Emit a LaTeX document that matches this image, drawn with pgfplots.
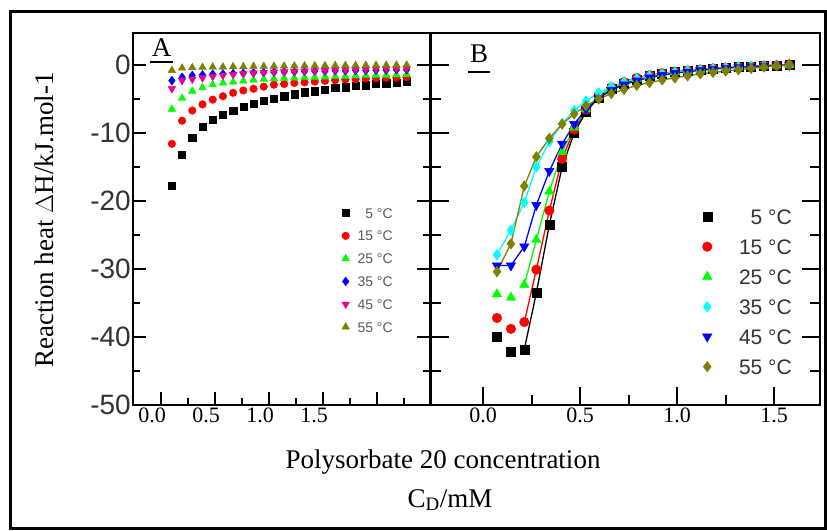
\documentclass[border=0pt]{standalone}
\usepackage{pgfplots}
\usepackage{pgfplotstable}
\pgfplotsset{compat=1.18}
\usepackage{fontspec}
\setmainfont{Liberation Serif}
\newfontfamily\arial{Liberation Sans}

\pgfplotstableread{
x t5 t15 t25 t35 t45 t55
0.1000 -17.7 -11.6 -6.5 -2.3 -3.5 -0.8
0.1945 -13.2 -8.2 -4.9 -1.8 -2.3 -0.45
0.2890 -10.7 -6.7 -3.85 -1.55 -2.1 -0.4
0.3835 -9.1 -5.8 -3.35 -1.45 -1.9 -0.35
0.4780 -8.06 -5.1 -2.9 -1.35 -1.7 -0.3
0.5725 -7.3 -4.6 -2.65 -1.3 -1.55 -0.3
0.6670 -6.7 -4.1 -2.5 -1.25 -1.4 -0.25
0.7615 -6.15 -3.75 -2.35 -1.2 -1.3 -0.25
0.8560 -5.7 -3.5 -2.2 -1.15 -1.2 -0.2
0.9505 -5.3 -3.2 -2.1 -1.1 -1.1 -0.2
1.0450 -5.0 -2.9 -2.0 -1.05 -1.05 -0.18
1.1395 -4.6 -2.8 -1.95 -1.0 -1.0 -0.16
1.2340 -4.3 -2.65 -1.9 -1.0 -0.95 -0.14
1.3285 -4.0 -2.55 -1.85 -0.95 -0.9 -0.12
1.4230 -3.85 -2.45 -1.8 -0.9 -0.85 -0.1
1.5175 -3.6 -2.35 -1.75 -0.9 -0.8 -0.09
1.6120 -3.36 -2.25 -1.7 -0.85 -0.75 -0.08
1.7065 -3.26 -2.15 -1.65 -0.85 -0.7 -0.07
1.8010 -3.1 -2.1 -1.6 -0.8 -0.7 -0.06
1.8955 -2.97 -2.0 -1.55 -0.8 -0.65 -0.05
1.9900 -2.8 -1.95 -1.5 -0.75 -0.6 -0.04
2.0845 -2.67 -1.9 -1.5 -0.75 -0.6 -0.03
2.1790 -2.57 -1.85 -1.45 -0.7 -0.55 -0.02
2.2735 -2.5 -1.8 -1.4 -0.7 -0.55 0.0
}\A

\pgfplotstableread{
x t5 t15 t25 t35 t45 t55
0.072 -40.0 -37.2 -33.7 -27.9 -29.5 -30.4
0.144 -42.2 -38.8 -34.2 -24.3 -29.5 -26.3
0.213 -41.8 -37.8 -32.3 -20.2 -26.7 -17.8
0.275 -33.5 -30.1 -25.7 -15.0 -20.6 -13.5
0.342 -23.5 -21.4 -18.6 -11.3 -15.6 -10.8
0.408 -15.0 -13.8 -12.8 -8.6 -11.6 -8.7
0.470 -10.0 -9.5 -9.2 -6.7 -8.7 -7.2
0.5305 -6.9 -6.6 -6.5 -5.3 -6.5 -6.0
0.596 -4.8 -4.6 -4.6 -4.1 -4.9 -5.0
0.6615 -3.5 -3.3 -3.4 -3.2 -3.7 -4.2
0.727 -2.7 -2.5 -2.6 -2.5 -2.9 -3.6
0.7925 -2.1 -1.9 -2.0 -2.0 -2.3 -3.0
0.858 -1.65 -1.5 -1.6 -1.6 -1.85 -2.6
0.9235 -1.3 -1.2 -1.3 -1.3 -1.5 -2.2
0.989 -1.05 -1.0 -1.05 -1.05 -1.2 -1.9
1.0545 -0.85 -0.8 -0.85 -0.85 -1.0 -1.6
1.120 -0.7 -0.65 -0.7 -0.7 -0.8 -1.3
1.1855 -0.55 -0.5 -0.55 -0.55 -0.6 -1.1
1.251 -0.4 -0.4 -0.4 -0.4 -0.45 -0.9
1.3165 -0.3 -0.3 -0.3 -0.3 -0.35 -0.7
1.382 -0.2 -0.2 -0.2 -0.2 -0.25 -0.5
1.4475 -0.1 -0.1 -0.1 -0.1 -0.15 -0.3
1.513 -0.05 -0.05 -0.05 -0.05 -0.05 -0.1
1.5785 0.0 0.0 0.0 0.0 0.0 0.1
}\B

\definecolor{olivec}{RGB}{128,128,0}
\definecolor{cyanc}{RGB}{0,255,255}
\definecolor{greenc}{RGB}{0,255,0}

\pgfplotsset{
  common/.style={
    scale only axis, anchor=south west,
    ymin=-50, ymax=4.7,
    axis line style={line width=2pt},
    every tick/.style={black, line width=2pt},
    tick align=inside,
    xtick pos=left,
    ytick pos=both,
    ytick={0,-10,-20,-30,-40,-50},
    minor ytick={-5,-15,-25,-35,-45},
    xticklabel style={font=\fontsize{22}{22}\selectfont, inner sep=1pt, yshift=-2pt},
    legend cell align=right,
  }
}

\begin{document}
\begin{tikzpicture}
\useasboundingbox (0pt,0pt) rectangle (827pt,530pt);
\fill[white] (0pt,0pt) rectangle (827pt,530pt);
\draw[line width=3pt] (10pt,518pt) -- (825.5pt,518pt) -- (825.5pt,1.5pt) -- (10pt,1.5pt) -- cycle;

% Panel A
\begin{axis}[common,
  at={(133pt,125pt)}, width=297pt, height=372pt,
  xmin=-0.26, xmax=2.49,
  xtick={0,0.5,1,1.5,2}, xticklabels={0.0,0.5,1.0,1.5,{}},
  xticklabel style={xshift=-9pt},
  minor xtick={0.25,0.75,1.25,1.75,2.25},
  yticklabels={0,-10,-20,-30,-40,-50},
  yticklabel style={font=\arial\fontsize{28}{28}\selectfont, text=black!80, inner sep=2pt},
  major tick length=13pt, minor tick length=7pt,
  legend style={at={(0.875,0.53)}, anchor=north east, draw=none, fill=none,
    inner sep=0pt, font=\arial\fontsize{14}{14}\selectfont, text=black!65,
    row sep=12.8pt, column sep=8pt,
    nodes={inner sep=0pt, text height=10pt, text depth=0pt}},
]
\addplot[only marks, mark=square*, mark size=3.6pt, black] table[x=x,y=t5] {\A};
\addlegendentry{5 °C}
\addplot[only marks, mark=*, mark size=3.8pt, red] table[x=x,y=t15] {\A};
\addlegendentry{15 °C}
\addplot[only marks, mark=triangle*, mark size=4.4pt, greenc] table[x=x,y=t25] {\A};
\addlegendentry{25 °C}
\addplot[only marks, mark=diamond*, mark size=4.4pt, blue] table[x=x,y=t35] {\A};
\addlegendentry{35 °C}
\addplot[only marks, mark=triangle*, mark options={rotate=180}, mark size=4.4pt, magenta] table[x=x,y=t45] {\A};
\addlegendentry{45 °C}
\addplot[only marks, mark=triangle*, mark size=4.4pt, olivec] table[x=x,y=t55] {\A};
\addlegendentry{55 °C}
\end{axis}

% Panel B
\begin{axis}[common,
  at={(431pt,125pt)}, width=389pt, height=372pt,
  xmin=-0.268, xmax=1.737,
  xtick={0,0.5,1,1.5}, xticklabels={0.0,0.5,1.0,1.5},
  minor xtick={0.25,0.75,1.25},
  yticklabels={},
  major tick length=18pt, minor tick length=10pt,
  legend style={at={(0.928,0.527)}, anchor=north east, draw=none, fill=none,
    inner sep=0pt, font=\arial\fontsize{21}{21}\selectfont, text=black!80,
    row sep=15pt, column sep=27pt,
    nodes={inner sep=0pt, text height=15pt, text depth=0pt}},
]
\addplot[black, line width=1.3pt, forget plot, skip coords between index={0}{2}] table[x=x,y=t5] {\B};
\addplot[red, line width=1.3pt, forget plot, skip coords between index={0}{2}] table[x=x,y=t15] {\B};
\addplot[greenc, line width=1.3pt, forget plot, skip coords between index={0}{2}] table[x=x,y=t25] {\B};
\addplot[cyanc, line width=1.3pt, forget plot] table[x=x,y=t35] {\B};
\addplot[blue, line width=1.3pt, forget plot] table[x=x,y=t45] {\B};
\addplot[olivec, line width=1.3pt, forget plot] table[x=x,y=t55] {\B};
\addplot[only marks, mark=square*, mark size=4.5pt, black] table[x=x,y=t5] {\B};
\addlegendentry{5 °C}
\addplot[only marks, mark=*, mark size=4.8pt, red] table[x=x,y=t15] {\B};
\addlegendentry{15 °C}
\addplot[only marks, mark=triangle*, mark size=5.5pt, greenc] table[x=x,y=t25] {\B};
\addlegendentry{25 °C}
\addplot[only marks, mark=diamond*, mark size=5.3pt, cyanc] table[x=x,y=t35] {\B};
\addlegendentry{35 °C}
\addplot[only marks, mark=triangle*, mark options={rotate=180}, mark size=5.5pt, blue] table[x=x,y=t45] {\B};
\addlegendentry{45 °C}
\addplot[only marks, mark=diamond*, mark size=5.3pt, olivec] table[x=x,y=t55] {\B};
\addlegendentry{55 °C}
\end{axis}

% panel letters
\node[font=\fontsize{27}{27}\selectfont] at (161.5pt,482.5pt) {A};
\draw[line width=2pt] (150pt,468pt) -- (173pt,468pt);
\node[font=\fontsize{27}{27}\selectfont] at (479pt,476pt) {B};
\draw[line width=2pt] (468pt,458pt) -- (490pt,458pt);

% axis titles
\node[rotate=90, font=\fontsize{27}{27}\selectfont] at (44pt,310pt) {Reaction heat $\Delta$H/kJ.mol-1};
\node[font=\fontsize{27}{27}\selectfont] at (443pt,68pt) {Polysorbate 20 concentration};
\node[font=\fontsize{27}{27}\selectfont] at (450pt,30pt) {C\textsubscript{D}/mM};
\end{tikzpicture}
\end{document}
